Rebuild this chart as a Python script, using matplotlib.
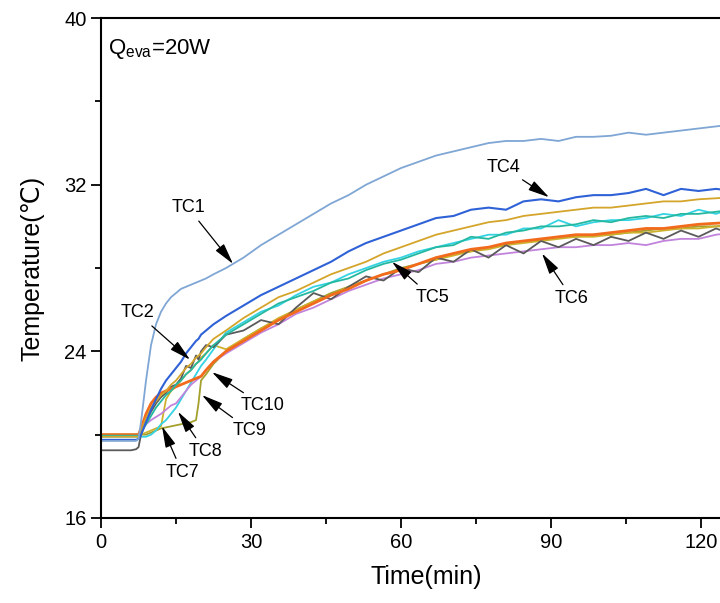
import matplotlib
matplotlib.use('Agg')
import matplotlib.pyplot as plt

plt.rcParams['font.family'] = ['Liberation Sans', 'DejaVu Sans']
plt.rcParams['mathtext.fontset'] = 'custom'
plt.rcParams['mathtext.rm'] = 'Liberation Sans'

# time grid (min)
time = [0, 3, 6, 7, 7.5, 8, 9, 10, 11, 12, 13, 14, 15, 16, 17, 18, 19, 19.5, 20, 21, 22.5,
        25, 28.5, 32, 35.5, 39, 42.5, 46, 49.5, 53, 56.5, 60, 63.5, 67, 70.5, 74, 77.5,
        81, 84.5, 88, 91.5, 95, 98.5, 102, 105.5, 109, 112.5, 116, 119.5, 123, 126.5, 130]

tc1 = [19.7, 19.7, 19.7, 19.7, 19.8, 20.6, 22.6, 24.3, 25.3, 25.9, 26.3, 26.6, 26.8, 27.0, 27.1, 27.2, 27.3, 27.35, 27.4, 27.5, 27.7,
       28.0, 28.5, 29.1, 29.6, 30.1, 30.6, 31.1, 31.5, 32.0, 32.4, 32.8, 33.1, 33.4, 33.6, 33.8, 34.0,
       34.1, 34.1, 34.2, 34.1, 34.3, 34.3, 34.35, 34.5, 34.4, 34.5, 34.6, 34.7, 34.8, 34.9, 34.7]
tc2 = [19.25, 19.25, 19.25, 19.3, 19.4, 20.0, 20.6, 21.1, 21.5, 21.8, 22.0, 22.3, 22.4, 22.7, 23.3, 23.2, 23.8, 23.6, 24.0, 24.3, 24.2,
       24.8, 25.0, 25.5, 25.3, 26.1, 26.8, 26.5, 27.1, 27.6, 27.4, 28.0, 27.8, 28.5, 28.3, 28.9, 28.5,
       29.1, 28.7, 29.3, 29.0, 29.4, 29.1, 29.5, 29.3, 29.7, 29.4, 29.8, 29.5, 29.9, 29.6, 29.8]
tc3 = [19.9, 19.9, 19.9, 19.9, 19.9, 20.2, 20.8, 21.3, 21.6, 21.9, 22.1, 22.4, 22.6, 22.9, 23.2, 23.4, 23.7, 23.8, 23.9, 24.2, 24.6,
       25.0, 25.6, 26.1, 26.6, 26.9, 27.3, 27.7, 28.0, 28.3, 28.7, 29.0, 29.3, 29.6, 29.8, 30.0, 30.2,
       30.3, 30.5, 30.6, 30.7, 30.8, 30.9, 30.9, 31.0, 31.1, 31.2, 31.2, 31.3, 31.35, 31.4, 31.4]
tc4 = [19.75, 19.75, 19.75, 19.75, 19.8, 20.0, 20.6, 21.2, 21.7, 22.2, 22.6, 22.9, 23.2, 23.5, 23.9, 24.2, 24.5, 24.6, 24.8, 25.0, 25.3,
       25.7, 26.2, 26.7, 27.1, 27.5, 27.9, 28.3, 28.8, 29.2, 29.5, 29.8, 30.1, 30.4, 30.5, 30.8, 30.9,
       30.8, 31.2, 31.3, 31.2, 31.4, 31.5, 31.5, 31.6, 31.8, 31.5, 31.8, 31.7, 31.8, 31.7, 31.85]
tc5 = [19.95, 19.95, 19.95, 19.95, 19.95, 20.1, 20.5, 20.9, 21.3, 21.6, 21.9, 22.1, 22.4, 22.6, 22.9, 23.1, 23.4, 23.5, 23.6, 23.9, 24.3,
       24.8, 25.3, 25.8, 26.3, 26.6, 26.9, 27.3, 27.5, 27.9, 28.2, 28.4, 28.7, 29.0, 29.1, 29.5, 29.4,
       29.7, 29.8, 30.0, 30.0, 30.1, 30.3, 30.2, 30.4, 30.5, 30.4, 30.6, 30.6, 30.7, 30.8, 30.7]
tc6 = [19.95, 19.95, 19.95, 19.95, 19.95, 20.1, 20.5, 20.7, 20.85, 21.0, 21.2, 21.4, 21.5, 21.8, 22.1, 22.4, 22.6, 22.7, 22.8, 23.1, 23.5,
       23.9, 24.4, 24.9, 25.3, 25.8, 26.1, 26.5, 26.9, 27.2, 27.5, 27.7, 27.9, 28.2, 28.3, 28.5, 28.6,
       28.7, 28.8, 28.9, 29.0, 29.0, 29.1, 29.1, 29.2, 29.1, 29.3, 29.4, 29.4, 29.6, 29.7, 29.7]
tc7 = [20.0, 20.0, 20.0, 20.0, 20.0, 20.0, 20.1, 20.2, 20.3, 20.4, 21.7, 22.1, 22.3, 22.6, 22.9, 23.1, 23.4, 23.5, 23.7, 23.9, 24.3,
       24.1, 24.6, 25.1, 25.6, 26.0, 26.4, 26.7, 27.1, 27.4, 27.7, 27.9, 28.2, 28.4, 28.6, 28.8, 28.9,
       29.1, 29.2, 29.3, 29.4, 29.5, 29.5, 29.6, 29.7, 29.7, 29.8, 29.9, 29.9, 30.0, 30.0, 30.1]
tc8 = [19.9, 19.9, 19.9, 19.9, 19.9, 19.9, 19.9, 20.0, 20.2, 20.5, 20.7, 21.0, 21.3, 21.7, 22.1, 22.5, 22.9, 23.1, 23.3, 23.6, 24.1,
       24.9, 25.4, 25.9, 26.2, 26.7, 27.1, 27.3, 27.7, 28.0, 28.3, 28.5, 28.8, 29.0, 29.2, 29.4, 29.6,
       29.6, 29.9, 29.9, 30.3, 30.0, 30.2, 30.3, 30.3, 30.4, 30.6, 30.5, 30.8, 30.6, 30.9, 30.8]
tc9 = [20.0, 20.0, 20.0, 20.0, 20.0, 20.0, 20.0, 20.1, 20.2, 20.3, 20.35, 20.4, 20.45, 20.5, 20.55, 20.6, 20.7, 21.5, 22.6, 22.9, 23.4,
       24.0, 24.6, 25.1, 25.5, 26.0, 26.4, 26.8, 27.1, 27.4, 27.7, 28.0, 28.2, 28.4, 28.7, 28.8, 29.0,
       29.1, 29.3, 29.3, 29.5, 29.5, 29.6, 29.6, 29.7, 29.8, 29.9, 29.9, 30.0, 30.0, 30.1, 30.1]
tc10 = [20.0, 20.0, 20.0, 20.0, 20.0, 20.3, 21.0, 21.5, 21.8, 22.0, 22.1, 22.2, 22.3, 22.4, 22.5, 22.6, 22.7, 22.75, 22.8, 23.1, 23.5,
        24.0, 24.5, 25.0, 25.5, 25.9, 26.3, 26.7, 27.0, 27.4, 27.7, 27.9, 28.2, 28.5, 28.7, 28.9, 29.0,
        29.2, 29.3, 29.4, 29.5, 29.6, 29.6, 29.7, 29.8, 29.9, 29.9, 30.0, 30.1, 30.15, 30.2, 30.2]

series = [tc1, tc2, tc3, tc4, tc5, tc6, tc7, tc8, tc9, tc10]
colors = ['#7fa6d4', '#5a5a5a', '#d4a52a', '#2f62d6', '#25b8a0', '#c183dc',
          '#cdb12c', '#33d3e3', '#a3a02c', '#f26a1c']
widths = [1.3, 1.3, 1.3, 1.5, 1.3, 1.3, 1.3, 1.3, 1.3, 2.0]
draw_order = [8, 6, 7, 5, 1, 9, 4, 2, 3, 0]

# label, text position, arrow tip
labels = ['TC1', 'TC4', 'TC5', 'TC6', 'TC2', 'TC10', 'TC9', 'TC8', 'TC7']
label_xy = [(17.4, 30.9), (80.4, 32.85), (66.2, 26.6), (94.2, 26.55), (7.2, 25.85),
            (32.4, 21.4), (29.8, 20.2), (20.8, 19.2), (16.2, 18.2)]
tip_xy = [(26.4, 28.2), (89.6, 31.4), (58.2, 28.3), (88.2, 28.7), (17.8, 23.6),
          (22.2, 23.0), (20.2, 21.9), (15.4, 21.1), (12.2, 20.4)]

fig = plt.figure(figsize=(7.2, 6.03), dpi=100)
ax = fig.add_axes([0.1403, 0.141, 0.9028, 0.829])

for i in draw_order:
    ax.plot(time, series[i], color=colors[i], linewidth=widths[i])

for lab, (tx, ty), (px, py) in zip(labels, label_xy, tip_xy):
    ax.annotate(lab, xy=(px, py), xytext=(tx, ty), fontsize=13, ha='center', va='center',
                arrowprops=dict(arrowstyle='-|>,head_length=1.0,head_width=0.25', color='black',
                                lw=0.9, shrinkA=2, shrinkB=0))

ax.text(1.4, 38.5, r'Q$_{\mathrm{eva}}$=20W', fontsize=16, ha='left', va='center')

ax.set_xlim(0, 130)
ax.set_ylim(16, 40)
ax.set_xticks([0, 30, 60, 90, 120])
ax.set_xticks([15, 45, 75, 105], minor=True)
ax.set_yticks([16, 24, 32, 40])
ax.set_yticks([20, 28, 36], minor=True)
ax.tick_params(which='major', direction='out', length=7, width=1.3, labelsize=14.5)
ax.tick_params(which='minor', direction='out', length=4, width=1.3)
for s in ax.spines.values():
    s.set_linewidth(1.5)
ax.spines['right'].set_visible(False)
ax.set_xlabel('Time(min)', fontsize=18, labelpad=10)
ax.set_ylabel('Temperature(℃)', fontsize=18, labelpad=14)

fig.savefig('out.png', dpi=100)
